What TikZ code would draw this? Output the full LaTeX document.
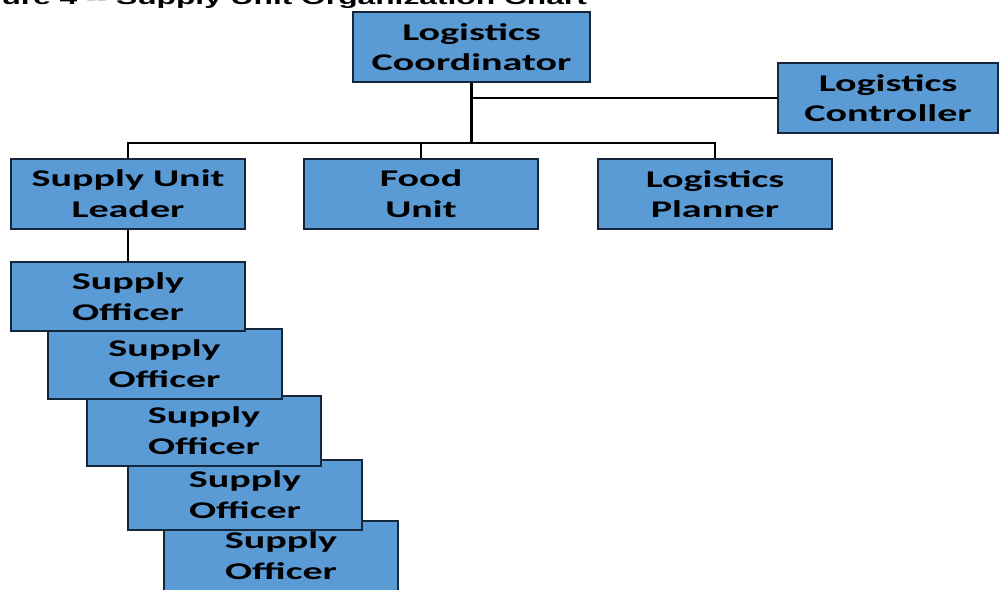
\documentclass[tikz,border=0pt]{standalone}
\usepackage{fontspec}
\newfontfamily\boxfont[FakeStretch=1.67]{Carlito}
\newfontfamily\titlefont[FakeStretch=1.67]{Liberation Sans}
\definecolor{boxblue}{HTML}{5B9BD5}
\definecolor{boxline}{HTML}{13263A}
\tikzset{
  unit/.style={draw=boxline, line width=2pt, fill=boxblue, minimum width=234pt, minimum height=70pt,
    inner sep=0pt, align=center, text=black, font=\boxfont\bfseries\fontsize{24}{30.7}\selectfont},
  link/.style={draw=black, line width=2.5pt}
}
\begin{document}
\begin{tikzpicture}[x=1pt,y=-1pt]
\useasboundingbox (0,0) rectangle (1000,589);
\clip (0,0) rectangle (1000,589);
\node[anchor=base east, font=\titlefont\bfseries\fontsize{19}{23}\selectfont, inner sep=0pt] (title) at (587,5) {Figure 4 -- Supply Unit Organization Chart};
\node[unit, minimum width=237pt] (coord) at (471.5,47) {Logistics\\Coordinator};
\node[unit, minimum width=220pt] (ctrl) at (888,98) {Logistics\\Controller};
\node[unit] (leader) at (128,194) {Supply Unit\\Leader};
\node[unit] (food) at (421,194) {Food\\Unit};
\node[unit] (plan) at (715,194) {Logistics\\Planner};
\node[unit] (so5) at (281,556) {Supply\\Officer};
\node[unit] (so4) at (245,495) {Supply\\Officer};
\node[unit] (so3) at (204,431) {Supply\\Officer};
\node[unit] (so2) at (164.5,364) {Supply\\Officer};
\node[unit, minimum height=69pt] (so1) at (128,296.5) {Supply\\Officer};
\coordinate (junc) at (coord.south |- 0,143);
\coordinate (cj) at (coord.south |- ctrl.west);
\draw[link] (coord.south) -- (junc);
\draw[link] (cj) -- (ctrl.west);
\draw[link] (leader.north) -- (leader.north |- junc) -- (plan.north |- junc) -- (plan.north);
\draw[link] (food.north |- junc) -- (food.north);
\draw[link] (leader.south) -- (so1.north);
\end{tikzpicture}
\end{document}
